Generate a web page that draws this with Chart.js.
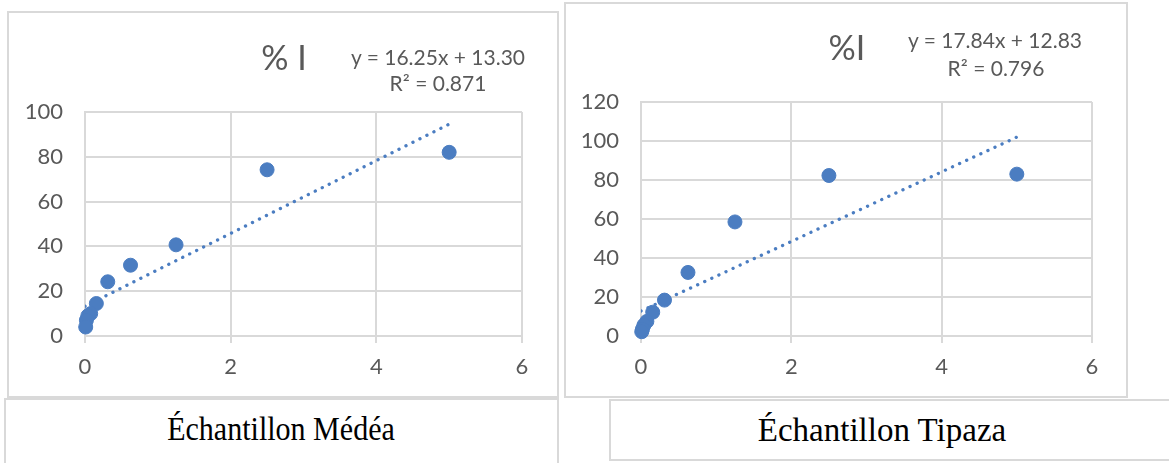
<!DOCTYPE html>
<html lang="fr">
<head>
<meta charset="UTF-8">
<title>% I - Échantillons Médéa et Tipaza</title>
<script src="https://cdn.jsdelivr.net/npm/chart.js"></script>
<style>
  body { margin: 0; background: #fff; width: 1169px; height: 463px; overflow: hidden; position: relative;
         font-family: Lato, "Open Sans", sans-serif; color: #595959; }
  .box { position: absolute; border: 2px solid #d9d9d9; box-sizing: border-box; }
  canvas { position: absolute; }
  .txt { position: absolute; transform: translate(-50%, -50%); white-space: nowrap; line-height: 1; }
  .eq { font-size: 21px; }
  .ttl { font-size: 34px; }
  .cap { font-family: "Liberation Serif", "Times New Roman", serif; font-size: 33px; color: #000; }
</style>
</head>
<body>

<!-- cadres -->
<div class="box" style="left:7px; top:11px; width:552px; height:387px;"></div>
<div class="box" style="left:564px; top:2px; width:564px; height:396px;"></div>
<div class="box" style="left:4px; top:398px; width:555px; height:90px;"></div>
<div class="box" style="left:609px; top:399px; width:600px; height:62px;"></div>

<canvas id="chartMedea" width="550" height="386" style="left:8px; top:12px;"></canvas>
<canvas id="chartTipaza" width="562" height="394" style="left:565px; top:3px;"></canvas>

<!-- titres et équations -->
<div class="txt ttl" style="left:284px; top:57px;">% I</div>
<div class="txt eq" style="left:438px; top:56px;">y = 16.25x + 13.30</div>
<div class="txt eq" style="left:438px; top:82px;">R² = 0.871</div>

<div class="txt ttl" style="left:847px; top:47px;">%I</div>
<div class="txt eq" style="left:995px; top:39px;">y = 17.84x + 12.83</div>
<div class="txt eq" style="left:996px; top:67px;">R² = 0.796</div>

<div class="txt cap" style="left:281px; top:429px; transform:translate(-50%,-50%) scaleX(0.91);">Échantillon Médéa</div>
<div class="txt cap" style="left:882px; top:430px;">Échantillon Tipaza</div>

<script>
  // concentrations (x) et % d'inhibition (y)
  const concMedea = [5, 2.5, 1.25, 0.625, 0.3125, 0.156, 0.078, 0.039, 0.0195, 0.0098];
  const inhibMedea = [82, 74.2, 40.7, 31.6, 24.2, 14.5, 10, 9, 7, 4];
  const trendXMedea = [0, 5];
  const trendYMedea = [13.3, 94.55];

  const concTipaza = [5, 2.5, 1.25, 0.625, 0.3125, 0.156, 0.078, 0.039, 0.0195, 0.0098];
  const inhibTipaza = [83, 82.3, 58.5, 32.6, 18.4, 12.2, 7.5, 5.5, 3.5, 2.2];
  const trendXTipaza = [0, 5];
  const trendYTipaza = [12.83, 102.0];

  const xTicks = [0, 2, 4, 6];
  const yTicksMedea = [0, 20, 40, 60, 80, 100];
  const yTicksTipaza = [0, 20, 40, 60, 80, 100, 120];

  const blue = '#4b7dc1';
  const gridColor = '#d9d9d9';
  const tickFont = { family: 'Lato', size: 22 };

  function pts(xs, ys) {
    return xs.map((x, i) => ({ x: x, y: ys[i] }));
  }

  function makeChart(id, xs, ys, tx, ty, yTicks, pad) {
    new Chart(document.getElementById(id), {
      type: 'scatter',
      data: {
        datasets: [
          {
            data: pts(xs, ys),
            backgroundColor: blue,
            borderColor: blue,
            pointRadius: 7,
            pointHoverRadius: 7,
            clip: false
          },
          {
            data: pts(tx, ty),
            showLine: true,
            pointRadius: 0,
            borderColor: blue,
            borderWidth: 3.3,
            borderDash: [0.1, 7.7],
            borderCapStyle: 'round'
          }
        ]
      },
      options: {
        responsive: false,
        animation: false,
        layout: { padding: pad },
        plugins: { legend: { display: false }, tooltip: { enabled: false } },
        scales: {
          x: {
            type: 'linear',
            min: xTicks[0],
            max: xTicks[xTicks.length - 1],
            afterBuildTicks: s => { s.ticks = xTicks.map(v => ({ value: v })); },
            afterFit: s => { s.height = 40; },
            grid: { color: gridColor, lineWidth: 2, tickLength: 7 },
            border: { color: gridColor, width: 2 },
            ticks: { color: '#595959', font: tickFont, padding: 11 }
          },
          y: {
            min: yTicks[0],
            max: yTicks[yTicks.length - 1],
            afterBuildTicks: s => { s.ticks = yTicks.map(v => ({ value: v })); },
            afterFit: s => { s.width = 60; },
            grid: { color: gridColor, lineWidth: 2, drawTicks: false },
            border: { color: gridColor, width: 2 },
            ticks: { color: '#595959', font: tickFont, padding: 22 }
          }
        }
      }
    });
  }

  makeChart('chartMedea', concMedea, inhibMedea, trendXMedea, trendYMedea, yTicksMedea,
    { left: 17, top: 100, right: 36, bottom: 22 });
  makeChart('chartTipaza', concTipaza, inhibTipaza, trendXTipaza, trendYTipaza, yTicksTipaza,
    { left: 16, top: 99, right: 35, bottom: 21 });
</script>
</body>
</html>
